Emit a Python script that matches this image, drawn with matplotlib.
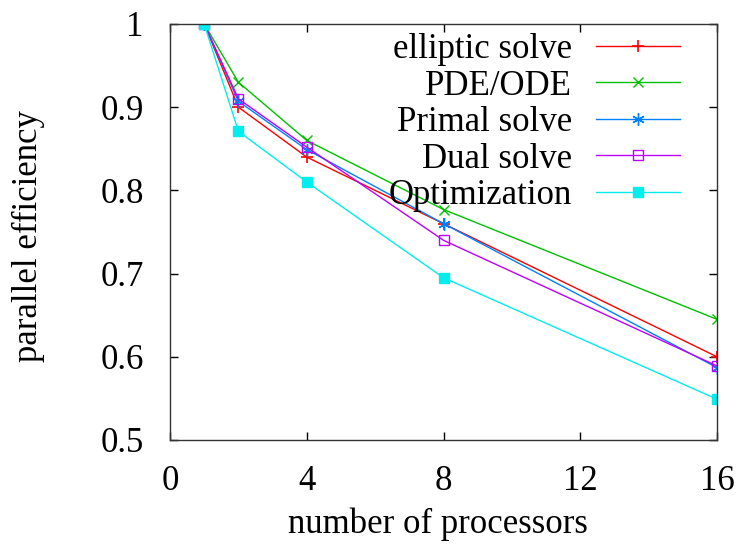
import matplotlib.pyplot as plt
from matplotlib.ticker import FuncFormatter

# processors and parallel efficiency
procs = [1, 2, 4, 8, 16]
elliptic = [1.0, 0.90, 0.84, 0.76, 0.60]
pde_ode = [1.0, 0.93, 0.86, 0.777, 0.645]
primal = [1.0, 0.907, 0.849, 0.76, 0.587]
dual = [1.0, 0.91, 0.852, 0.74, 0.589]
optim = [1.0, 0.871, 0.81, 0.695, 0.549]

labels = ['elliptic solve', 'PDE/ODE', 'Primal solve', 'Dual solve', 'Optimization']

plt.rcParams['font.family'] = ['Liberation Serif', 'DejaVu Serif']
fs = 25

fig = plt.figure(figsize=(7.37, 5.44), dpi=100)
ax = fig.add_axes([0.2307, 0.1912, 0.7422, 0.7647])

ax.plot(procs, elliptic, color='#ff0000', marker='+', ms=9, mew=1.2, lw=1.0, label=labels[0])
ax.plot(procs, pde_ode, color='#00c000', marker='x', ms=7, mew=1.0, lw=1.0, label=labels[1])
ax.plot(procs, primal, color='#0080ff', marker=(6, 2, 0), ms=9, mew=1.0, lw=1.0, label=labels[2])
ax.plot(procs, dual, color='#c000ff', marker='s', ms=7, mfc='none', mew=1.0, lw=1.0, label=labels[3])
ax.plot(procs, optim, color='#00eeee', marker='s', ms=7, lw=1.0, label=labels[4])

ax.set_xlim(0, 16)
ax.set_ylim(0.5, 1.0)
ax.set_xticks([0, 4, 8, 12, 16])
ax.set_yticks([0.5, 0.6, 0.7, 0.8, 0.9, 1.0])
ax.yaxis.set_major_formatter(FuncFormatter(lambda v, p: '1' if v == 1 else '%.1f' % v))
ax.tick_params(direction='in', top=True, right=True, labelsize=fs, length=6, width=1.0)
ax.tick_params(axis='x', pad=18)
ax.tick_params(axis='y', pad=19)
for s in ax.spines.values():
    s.set_linewidth(1.0)
    s.set_color('#333333')

ax.set_xlabel('number of processors', fontsize=fs)
ax.set_ylabel('parallel efficiency', fontsize=fs)
ax.xaxis.set_label_coords(0.49, -0.163)
ax.yaxis.set_label_coords(-0.229, 0.49)

leg = ax.legend(loc='upper right', frameon=False, markerfirst=False, fontsize=fs,
                numpoints=1, handlelength=2.4, handletextpad=0.7,
                labelspacing=0.1, borderpad=0, borderaxespad=0,
                bbox_to_anchor=(0.932, 0.978))
for t in leg.get_texts():
    t.set_ha('right')

fig.savefig('out.png', dpi=100)
